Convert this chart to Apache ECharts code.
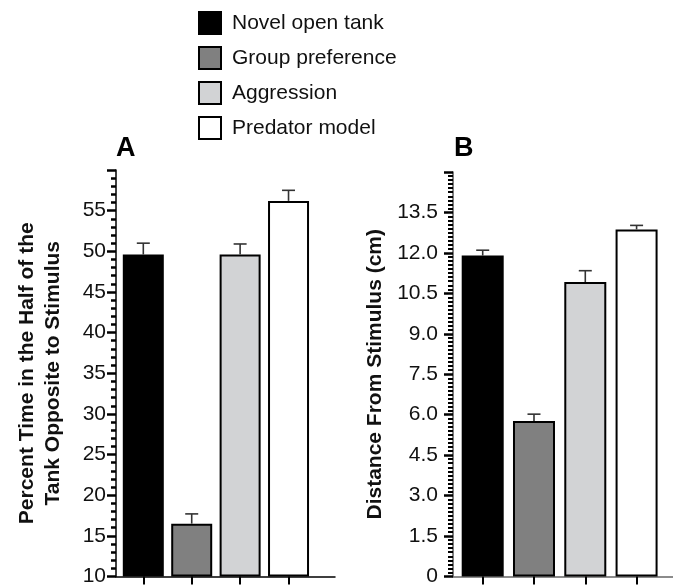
<!DOCTYPE html>
<html>
<head>
<meta charset="utf-8">
<script src="https://cdn.jsdelivr.net/npm/echarts@6/dist/echarts.min.js"></script>
<style>
html,body{margin:0;padding:0;background:#fff;}
#chart{width:673px;height:587px;}
</style>
</head>
<body>
<div id="chart"></div>
<script>
// ---- data ----
const categories = ['Novel open tank', 'Group preference', 'Aggression', 'Predator model'];
const positions = [1, 2, 3, 4];
const valuesA = [49.6, 16.5, 49.6, 56.2];
const errorsA = [1.4, 1.2, 1.3, 1.3];
const valuesB = [11.9, 5.77, 10.92, 12.87];
const errorsB = [0.2, 0.25, 0.42, 0.15];
const yTicksA = [10, 15, 20, 25, 30, 35, 40, 45, 50, 55];
const yTicksB = ['0', '1.5', '3.0', '4.5', '6.0', '7.5', '9.0', '10.5', '12.0', '13.5'];

const colors = ['#000000', '#808080', '#d2d3d5', '#ffffff'];
const FONT = '"Liberation Sans", Arial, Helvetica, sans-serif';

const chart = echarts.init(document.getElementById('chart'), null, {renderer: 'canvas'});

function barSeries(panel, values) {
  return categories.map((name, i) => ({
    name: name,
    type: 'bar',
    xAxisIndex: panel,
    yAxisIndex: panel,
    barWidth: panel === 0 ? 41 : 42,
    barGap: '-100%',
    itemStyle: {color: colors[i], borderColor: '#000', borderWidth: 2},
    emphasis: {disabled: true},
    data: [[positions[i], values[i]]]
  }));
}

function errSeries(panel, values, errors) {
  return {
    type: 'custom',
    xAxisIndex: panel,
    yAxisIndex: panel,
    z: 5,
    silent: true,
    renderItem: function (params, api) {
      const x = api.value(0), v = api.value(1), e = api.value(2);
      const p0 = api.coord([x, v]);
      const p1 = api.coord([x, v + e]);
      const half = 6.5;
      const st = {stroke: '#333', lineWidth: 1.6};
      return {
        type: 'group',
        children: [
          {type: 'line', shape: {x1: p0[0], y1: p0[1], x2: p1[0], y2: p1[1]}, style: st},
          {type: 'line', shape: {x1: p1[0] - half, y1: p1[1], x2: p1[0] + half, y2: p1[1]}, style: st}
        ]
      };
    },
    data: positions.map((p, i) => [p, values[i], errors[i]])
  };
}

const labelStyle = {fontFamily: FONT, fontSize: 21, color: '#111'};
const nameStyle = {fontFamily: FONT, fontSize: 21, fontWeight: 'bold', color: '#111'};

const option = {
  animation: false,
  textStyle: {fontFamily: FONT},
  title: [
    {text: 'A', left: 116, top: 135, padding: 0, textStyle: {fontFamily: FONT, fontSize: 27, fontWeight: 'bold', color: '#000'}},
    {text: 'B', left: 454, top: 135, padding: 0, textStyle: {fontFamily: FONT, fontSize: 27, fontWeight: 'bold', color: '#000'}}
  ],
  legend: {
    orient: 'vertical',
    left: 198,
    top: 11,
    padding: 0,
    itemWidth: 22,
    itemHeight: 22,
    itemGap: 11,
    icon: 'rect',
    selectedMode: false,
    data: categories,
    itemStyle: {borderColor: '#000', borderWidth: 2},
    textStyle: {fontFamily: FONT, fontSize: 21, color: '#111', padding: [0, 0, 0, 6]}
  },
  grid: [
    {left: 116, top: 170, width: 219, height: 408},
    {left: 453, top: 172, width: 220, height: 406}
  ],
  xAxis: [
    {
      type: 'value', gridIndex: 0, min: 0.436, max: 4.96,
      axisLine: {show: true, lineStyle: {color: '#000', width: 1.5}},
      axisTick: {show: true, customValues: positions, length: 8, lineStyle: {color: '#000', width: 2}},
      axisLabel: {show: false},
      splitLine: {show: false}
    },
    {
      type: 'value', gridIndex: 1, min: 0.421, max: 4.71,
      axisLine: {show: true, lineStyle: {color: '#666', width: 1.5}},
      axisTick: {show: true, customValues: positions, length: 8, lineStyle: {color: '#000', width: 2}},
      axisLabel: {show: false},
      splitLine: {show: false}
    }
  ],
  yAxis: [
    {
      type: 'value', gridIndex: 0, min: 10, max: 60, interval: 5, startValue: 10,
      name: 'Percent Time in the Half of the\nTank Opposite to Stimulus',
      nameLocation: 'middle', nameGap: 50,
      nameTextStyle: Object.assign({lineHeight: 26}, nameStyle),
      axisLine: {show: true, lineStyle: {color: '#000', width: 1.5}},
      axisTick: {show: true, length: 9, lineStyle: {color: '#000', width: 2.5}},
      minorTick: {show: true, splitNumber: 5, length: 5, lineStyle: {color: '#000', width: 2.5}},
      axisLabel: Object.assign({margin: 10, showMaxLabel: false,
        formatter: function (v) { return yTicksA.indexOf(v) >= 0 ? String(v) : ''; }}, labelStyle),
      splitLine: {show: false}
    },
    {
      type: 'value', gridIndex: 1, min: 0, max: 15, interval: 1.5,
      name: 'Distance From Stimulus (cm)',
      nameLocation: 'middle', nameGap: 67,
      nameTextStyle: Object.assign({lineHeight: 21}, nameStyle),
      axisLine: {show: true, lineStyle: {color: '#555', width: 1.5}},
      axisTick: {show: true, length: 9, lineStyle: {color: '#000', width: 2.5}},
      minorTick: {show: true, splitNumber: 10, length: 5, lineStyle: {color: '#000', width: 2}},
      axisLabel: Object.assign({margin: 15, showMaxLabel: false,
        formatter: function (v) {
          const idx = Math.round(v / 1.5);
          return (Math.abs(idx * 1.5 - v) < 1e-6 && yTicksB[idx] !== undefined) ? yTicksB[idx] : '';
        }}, labelStyle),
      splitLine: {show: false}
    }
  ],
  series: [].concat(
    barSeries(0, valuesA),
    barSeries(1, valuesB),
    [errSeries(0, valuesA, errorsA), errSeries(1, valuesB, errorsB)]
  )
};

chart.setOption(option);
</script>
</body>
</html>
